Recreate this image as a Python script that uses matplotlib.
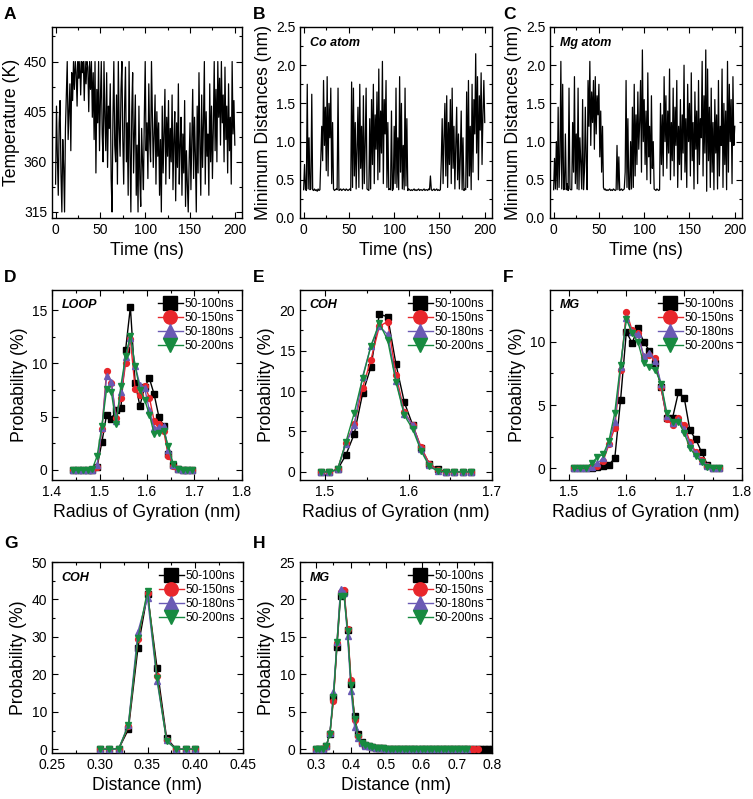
import matplotlib
matplotlib.use("Agg")
import matplotlib.pyplot as plt
from matplotlib.ticker import AutoMinorLocator
import numpy as np

plt.rcParams['font.family'] = ['Liberation Sans', 'DejaVu Sans']

# ---- time series (A, B, C), one value per ns ----
time_ns = list(range(0, 201))

temperature = [
    340, 410, 365, 330, 395, 415, 350, 315, 380, 355,
    315, 390, 420, 450, 380, 405, 430, 370, 440, 415,
    450, 425, 450, 440, 410, 450, 435, 450, 420, 450,
    440, 450, 415, 450, 430, 450, 445, 405, 450, 425,
    450, 400, 440, 380, 450, 350, 425, 395, 450, 370,
    415, 450, 385, 360, 450, 400, 370, 440, 355, 410,
    390, 430, 345, 315, 400, 450, 375, 360, 420, 340,
    450, 390, 365, 425, 450, 380, 340, 410, 445, 360,
    395, 330, 450, 370, 315, 405, 440, 350, 385, 420,
    330, 375, 315, 410, 345, 320, 390, 360, 335, 400,
    450, 370, 395, 345, 430, 380, 360, 450, 400, 355,
    385, 420, 340, 405, 365, 395, 330, 380, 315, 410,
    350, 385, 425, 340, 400, 365, 415, 345, 390, 360,
    420, 335, 380, 405, 325, 395, 355, 430, 340, 375,
    400, 330, 385, 350, 415, 320, 370, 340, 315, 360,
    395, 335, 380, 425, 345, 400, 365, 315, 410, 350,
    440, 375, 330, 420, 355, 395, 450, 340, 405, 365,
    385, 330, 430, 360, 410, 345, 390, 450, 370, 425,
    360, 450, 400, 435, 375, 450, 395, 420, 360, 445,
    380, 410, 350, 430, 370, 400, 340, 450, 385, 415,
    375]

co_dist = [
    0.37, 0.70, 0.38, 0.36, 1.75, 0.38, 1.05, 0.37, 0.38, 1.62,
    0.37, 0.36, 0.38, 0.36, 0.37, 0.35, 0.38, 0.36, 0.37, 0.80,
    1.20, 0.75, 1.80, 0.95, 1.45, 0.62, 1.85, 0.55, 1.50, 1.05,
    1.70, 0.45, 1.25, 0.38, 0.36, 0.37, 0.38, 0.37, 1.70, 0.36,
    0.37, 0.38, 0.36, 0.37, 0.38, 0.37, 0.36, 0.38, 0.37, 0.36,
    0.37, 0.38, 0.36, 1.78, 0.40, 1.70, 0.55, 1.25, 0.38, 0.90,
    1.45, 0.40, 1.75, 0.65, 1.20, 0.38, 1.60, 0.45, 0.95, 1.70,
    0.38, 0.37, 0.36, 1.30, 0.38, 1.55, 0.70, 1.75, 0.45, 1.35,
    0.90, 1.65, 0.50, 1.95, 0.60, 1.40, 0.85, 2.05, 0.45, 1.55,
    1.10, 1.80, 0.40, 1.25, 0.37, 0.38, 0.37, 1.40, 0.36, 0.38,
    1.20, 0.45, 1.70, 0.40, 1.05, 0.37, 1.85, 0.60, 1.50, 0.38,
    0.95, 0.37, 1.70, 0.42, 1.30, 0.36, 0.38, 0.37, 0.36, 0.37,
    0.36, 0.37, 0.38, 0.36, 0.37, 0.36, 0.37, 0.38, 0.36, 0.37,
    0.37, 0.36, 0.37, 0.38, 0.36, 0.37, 0.37, 0.36, 0.38, 0.37,
    0.55, 0.37, 0.36, 0.37, 0.38, 0.36, 0.37, 0.38, 0.36, 0.37,
    0.36, 0.37, 0.75, 1.30, 0.45, 1.05, 1.50, 0.55, 1.60, 0.40,
    1.25, 0.70, 1.55, 0.45, 1.70, 0.65, 1.20, 0.38, 0.95, 1.45,
    0.50, 1.10, 0.38, 0.80, 1.40, 0.37, 1.05, 0.36, 0.38, 0.37,
    1.65, 0.40, 1.80, 0.55, 1.20, 0.37, 1.75, 0.60, 1.55, 1.10,
    2.15, 0.85, 1.85, 0.50, 1.60, 1.15, 1.90, 0.70, 1.35, 1.80,
    1.25]

mg_dist = [
    0.37, 0.78, 0.38, 1.00, 0.37, 1.45, 0.40, 0.80, 2.05, 0.38,
    1.75, 0.37, 0.38, 1.10, 0.37, 0.45, 0.36, 1.70, 0.38, 0.37,
    0.37, 1.25, 0.60, 1.85, 0.45, 1.10, 0.38, 1.70, 0.37, 1.05,
    0.70, 0.38, 1.55, 0.37, 0.60, 1.45, 0.75, 0.37, 1.80, 1.20,
    2.05, 0.95, 1.65, 1.25, 1.80, 0.90, 1.85, 1.10, 1.60, 1.35,
    1.75, 0.80, 1.40, 0.60, 1.20, 0.40, 0.37, 0.38, 0.36, 0.37,
    0.36, 0.37, 0.38, 0.36, 0.37, 0.36, 0.38, 0.37, 0.36, 0.37,
    0.95, 0.37, 0.80, 0.36, 0.37, 0.38, 0.36, 0.37, 0.38, 0.60,
    1.80, 0.40, 1.30, 0.38, 0.37, 1.00, 0.38, 1.45, 0.40, 1.75,
    0.55, 1.35, 0.70, 1.65, 0.90, 1.25, 1.80, 0.60, 2.20, 1.00,
    1.55, 0.70, 1.40, 0.50, 1.90, 0.80, 1.20, 0.45, 1.60, 0.65,
    1.00, 0.38, 0.37, 0.36, 0.38, 0.37, 0.36, 0.37, 1.50, 0.70,
    1.35, 0.55, 1.85, 1.00, 1.60, 0.65, 1.40, 0.85, 1.95, 0.50,
    1.25, 0.75, 1.70, 0.55, 1.45, 0.95, 1.80, 0.40, 1.20, 0.70,
    1.55, 0.50, 1.35, 0.85, 2.00, 0.60, 1.30, 0.40, 1.75, 1.00,
    1.50, 0.55, 1.90, 0.75, 1.25, 0.38, 1.65, 0.90, 1.40, 0.45,
    1.80, 0.70, 1.30, 1.05, 2.05, 0.55, 1.60, 0.85, 2.20, 0.35,
    1.95, 0.75, 1.45, 0.40, 1.70, 0.60, 1.25, 0.37, 1.55, 0.85,
    1.35, 0.38, 1.80, 0.55, 1.20, 0.95, 1.95, 0.40, 1.50, 0.70,
    1.40, 0.37, 2.05, 0.60, 1.75, 1.00, 1.55, 0.45, 1.85, 0.95,
    1.20]

series_names = ["50-100ns", "50-150ns", "50-180ns", "50-200ns"]

# ---- D: LOOP radius of gyration ----
loop_rg = [1.445, 1.455, 1.465, 1.475, 1.485, 1.495, 1.505, 1.515, 1.525,
           1.535, 1.545, 1.555, 1.565, 1.575, 1.585, 1.595, 1.605, 1.615,
           1.625, 1.635, 1.645, 1.655, 1.665, 1.675, 1.685, 1.695]
loop_100 = [0, 0, 0, 0, 0, 0.3, 2.6, 5.2, 4.8, 5.6, 5.8, 11.3, 15.3,
            8.2, 6.0, 7.8, 8.6, 7.1, 5.0, 4.1, 1.5, 0.5, 0.1, 0, 0, 0]
loop_150 = [0, 0, 0, 0, 0, 0.3, 3.8, 9.3, 8.2, 4.9, 6.8, 10.0, 12.3,
            7.6, 7.0, 7.9, 6.8, 4.6, 4.3, 3.7, 1.3, 0.4, 0.1, 0, 0, 0]
loop_180 = [0, 0, 0, 0, 0, 0.5, 3.9, 8.8, 8.3, 4.6, 7.3, 10.6, 12.4,
            9.8, 8.0, 7.7, 5.6, 3.9, 4.0, 4.1, 1.9, 0.5, 0.1, 0, 0, 0]
loop_200 = [0, 0, 0, 0, 0.1, 1.3, 4.1, 7.6, 7.3, 4.3, 7.9, 10.7, 12.6,
            9.8, 7.5, 6.6, 5.2, 3.4, 3.5, 3.7, 2.2, 0.6, 0.1, 0, 0, 0]

# ---- E: COH radius of gyration ----
coh_rg = [1.495, 1.505, 1.515, 1.525, 1.535, 1.545, 1.555, 1.565, 1.575,
          1.585, 1.595, 1.605, 1.615, 1.625, 1.635, 1.645, 1.655, 1.665,
          1.675]
coh_100 = [0, 0, 0.3, 2.1, 4.7, 9.7, 13.0, 19.5, 19.2, 13.3, 8.6, 5.8,
           2.9, 1.0, 0.3, 0, 0, 0, 0]
coh_150 = [0, 0, 0.3, 3.6, 5.9, 10.4, 13.9, 18.0, 18.6, 12.0, 7.4, 5.8,
           3.1, 1.0, 0.2, 0, 0, 0, 0]
coh_180 = [0, 0, 0.3, 3.5, 5.8, 11.8, 15.6, 18.0, 17.0, 11.3, 7.2, 5.8,
           2.8, 0.8, 0.1, 0, 0, 0, 0]
coh_200 = [0, 0, 0.3, 3.7, 7.3, 11.6, 15.6, 18.4, 16.3, 11.1, 7.0, 5.3,
           2.6, 0.7, 0.1, 0, 0, 0, 0]

# ---- F: MG radius of gyration ----
mg_rg = [1.51, 1.52, 1.53, 1.54, 1.55, 1.56, 1.57, 1.58, 1.59, 1.60,
         1.61, 1.62, 1.63, 1.64, 1.65, 1.66, 1.67, 1.68, 1.69, 1.70,
         1.71, 1.72, 1.73, 1.74, 1.75, 1.76]
mg_100 = [0, 0, 0, 0, 0.1, 0.2, 0.3, 0.8, 5.4, 10.8, 9.9, 11.1, 10.0,
          9.3, 8.3, 6.4, 4.0, 4.0, 6.0, 5.6, 3.0, 2.3, 1.3, 0.3, 0, 0]
mg_150 = [0, 0, 0, 0.1, 0.2, 0.6, 1.9, 3.2, 7.8, 12.4, 10.9, 10.7, 8.8,
          9.0, 8.7, 6.4, 3.9, 3.4, 4.0, 3.4, 2.1, 1.3, 0.7, 0.2, 0, 0]
mg_180 = [0, 0, 0, 0.1, 0.4, 0.8, 2.0, 3.7, 8.0, 11.9, 10.8, 10.6, 8.9,
          9.1, 8.5, 6.7, 4.1, 3.6, 3.8, 3.1, 1.9, 1.2, 0.6, 0.2, 0, 0]
mg_200 = [0, 0, 0, 0.4, 0.9, 1.1, 2.2, 4.4, 8.2, 11.8, 10.7, 10.0, 8.3,
          8.0, 7.8, 6.7, 4.4, 3.7, 3.7, 2.8, 1.6, 1.0, 0.5, 0.1, 0, 0]

# ---- G: COH distance ----
coh_d = [0.30, 0.31, 0.32, 0.33, 0.34, 0.35, 0.36, 0.37, 0.38, 0.39, 0.40]
cohd_100 = [0, 0, 0.2, 5.3, 27.1, 41.5, 21.7, 3.0, 0, 0, 0]
cohd_150 = [0, 0, 0.2, 6.1, 29.4, 41.8, 19.6, 2.4, 0, 0, 0]
cohd_180 = [0, 0, 0.2, 6.6, 31.4, 40.5, 18.3, 2.4, 0, 0, 0]
cohd_200 = [0, 0, 0.2, 6.4, 29.6, 42.3, 19.0, 2.2, 0, 0, 0]

# ---- H: MG distance (series differ in length) ----
mg_d = [0.30, 0.31, 0.32, 0.33, 0.34, 0.35, 0.36, 0.37, 0.38, 0.39,
        0.40, 0.41, 0.42, 0.43, 0.44, 0.45, 0.46, 0.47, 0.48, 0.49,
        0.50, 0.51, 0.52, 0.53, 0.54, 0.55, 0.56, 0.57, 0.58, 0.59,
        0.60, 0.61, 0.62, 0.63, 0.64, 0.65, 0.66, 0.67, 0.68, 0.69,
        0.70, 0.71, 0.72, 0.73, 0.74, 0.75, 0.76, 0.77, 0.78, 0.79,
        0.80]
mgd_100 = [0, 0, 0.1, 0.5, 2.1, 7.0, 13.7, 20.4, 21.0, 15.9,
           8.7, 4.4, 2.0, 1.0, 0.6, 0.4, 0.3, 0.2, 0.15, 0.12,
           0.10, 0.09, 0.08, 0.07, 0.06, 0.06, 0.05, 0.05, 0.04, 0.04,
           0.04, 0.03, 0.03, 0.03, 0.03, 0.02, 0.02, 0.02, 0.02, 0.02,
           0.02, 0.01, 0.01, 0.01, 0.01, 0.01, 0.01, 0.01, 0.01, 0.01,
           0.01]
mgd_150 = [0, 0, 0.1, 0.4, 2.2, 6.5, 14.2, 21.0, 21.3, 16.0,
           9.2, 3.9, 1.8, 0.9, 0.6, 0.4, 0.3, 0.2, 0.15, 0.12,
           0.10, 0.09, 0.08, 0.07, 0.06, 0.06, 0.05, 0.05, 0.04, 0.04,
           0.04, 0.03, 0.03, 0.03, 0.03, 0.02, 0.02, 0.02, 0.02, 0.02,
           0.02, 0.01, 0.01, 0.01, 0.01, 0.01, 0.01]
mgd_180 = [0, 0, 0.1, 0.5, 2.2, 7.6, 14.3, 21.4, 20.8, 15.1,
           7.8, 3.0, 1.5, 0.8, 0.5, 0.4, 0.3, 0.2, 0.15, 0.12,
           0.10, 0.09, 0.08, 0.07, 0.06, 0.06, 0.05, 0.05, 0.04, 0.04,
           0.04, 0.03, 0.03, 0.03, 0.03, 0.02, 0.02, 0.02, 0.02, 0.02,
           0.02, 0.01, 0.01, 0.01]
mgd_200 = [0, 0, 0.1, 0.5, 2.1, 7.0, 14.3, 20.5, 20.5, 15.8,
           8.6, 4.0, 1.7, 0.9, 0.6, 0.4, 0.3, 0.2, 0.15, 0.12,
           0.10, 0.09, 0.08, 0.07, 0.06, 0.06, 0.05, 0.05, 0.04, 0.04,
           0.04, 0.03, 0.03, 0.03, 0.03, 0.02, 0.02, 0.02, 0.02, 0.02,
           0.02, 0.01, 0.01, 0.01]

colors = ["#000000", "#e8262b", "#6a5ab4", "#178a40"]
markers = ["s", "o", "^", "v"]

W, H = 753, 799
LABEL_FS = 12.7
TICK_FS = 10


def add_ax(fig, left, top, right, bottom):
    return fig.add_axes([left / W, 1 - bottom / H,
                         (right - left) / W, (bottom - top) / H])


def style(ax):
    ax.tick_params(which="both", direction="in", top=True, right=True,
                   labelsize=TICK_FS, width=0.8)
    ax.tick_params(which="major", length=4)
    ax.tick_params(which="minor", length=2)
    ax.xaxis.set_minor_locator(AutoMinorLocator(2))
    ax.yaxis.set_minor_locator(AutoMinorLocator(2))
    for s in ax.spines.values():
        s.set_linewidth(1.0)


def dist_panel(ax, xs, ys, tag):
    for i, (x, y) in enumerate(zip(xs, ys)):
        ax.plot(x, y, color=colors[i], marker=markers[i], ms=4.2, lw=1.0,
                mec=colors[i], label=series_names[i], zorder=2 + i)
    ax.legend(loc="upper right", frameon=False, fontsize=8.6,
              markerscale=2.3, handlelength=2.1, handletextpad=0.1,
              labelspacing=0.15, borderaxespad=0.3)
    ax.text(0.05, 0.95, tag, transform=ax.transAxes, fontsize=9,
            fontweight="bold", style="italic", va="top")
    ax.set_ylabel("Probability (%)", fontsize=LABEL_FS, labelpad=3)
    style(ax)


def main():
    fig = plt.figure(figsize=(W / 100, H / 100), dpi=100)

    # A
    ax = add_ax(fig, 52, 27, 242, 218)
    ax.plot(time_ns, temperature, color="black", lw=0.9)
    ax.set_xlim(-4, 208)
    ax.set_ylim(309.6, 481)
    ax.set_yticks([315, 360, 405, 450])
    ax.set_xticks([0, 50, 100, 150, 200])
    ax.set_xlabel("Time (ns)", fontsize=LABEL_FS)
    ax.set_ylabel("Temperature (K)", fontsize=LABEL_FS, labelpad=3)
    style(ax)

    # B, C
    for left, data, tag in [(300, co_dist, "Co atom"), (550, mg_dist, "Mg atom")]:
        ax = add_ax(fig, left, 27, left + 192, 218)
        ax.plot(time_ns, data, color="black", lw=0.9)
        ax.set_xlim(-4, 208)
        ax.set_ylim(0, 2.5)
        ax.set_yticks([0.0, 0.5, 1.0, 1.5, 2.0, 2.5])
        ax.set_yticklabels(["0.0", "0.5", "1.0", "1.5", "2.0", "2.5"])
        ax.set_xticks([0, 50, 100, 150, 200])
        ax.set_xlabel("Time (ns)", fontsize=LABEL_FS)
        ax.set_ylabel("Minimum Distances (nm)", fontsize=LABEL_FS, labelpad=3)
        ax.text(0.05, 0.95, tag, transform=ax.transAxes, fontsize=9,
                fontweight="bold", style="italic", va="top")
        style(ax)

    # D
    ax = add_ax(fig, 52, 290, 242, 480)
    dist_panel(ax, [loop_rg] * 4, [loop_100, loop_150, loop_180, loop_200], "LOOP")
    ax.set_xlim(1.4, 1.8)
    ax.set_ylim(-0.95, 16.9)
    ax.set_xticks([1.4, 1.5, 1.6, 1.7, 1.8])
    ax.set_yticks([0, 5, 10, 15])
    ax.set_xlabel("Radius of Gyration (nm)", fontsize=LABEL_FS)

    # E
    ax = add_ax(fig, 300, 290, 492, 480)
    dist_panel(ax, [coh_rg] * 4, [coh_100, coh_150, coh_180, coh_200], "COH")
    ax.set_xlim(1.47, 1.7)
    ax.set_ylim(-1.0, 22.5)
    ax.set_xticks([1.5, 1.6, 1.7])
    ax.set_yticks([0, 5, 10, 15, 20])
    ax.set_xlabel("Radius of Gyration (nm)", fontsize=LABEL_FS)

    # F
    ax = add_ax(fig, 550, 290, 742, 480)
    dist_panel(ax, [mg_rg] * 4, [mg_100, mg_150, mg_180, mg_200], "MG")
    ax.set_xlim(1.468, 1.8)
    ax.set_ylim(-0.92, 14.1)
    ax.set_xticks([1.5, 1.6, 1.7, 1.8])
    ax.set_yticks([0, 5, 10])
    ax.set_xlabel("Radius of Gyration (nm)", fontsize=LABEL_FS)

    # G
    ax = add_ax(fig, 52, 562, 243, 753)
    dist_panel(ax, [coh_d] * 4, [cohd_100, cohd_150, cohd_180, cohd_200], "COH")
    ax.set_xlim(0.25, 0.45)
    ax.set_ylim(-1.0, 50)
    ax.set_xticks([0.25, 0.30, 0.35, 0.40, 0.45])
    ax.set_xticklabels(["0.25", "0.30", "0.35", "0.40", "0.45"])
    ax.set_yticks([0, 10, 20, 30, 40, 50])
    ax.set_xlabel("Distance (nm)", fontsize=LABEL_FS)

    # H
    ax = add_ax(fig, 300, 562, 492, 753)
    xs = [mg_d[:len(mgd_100)], mg_d[:len(mgd_150)],
          mg_d[:len(mgd_180)], mg_d[:len(mgd_200)]]
    dist_panel(ax, xs, [mgd_100, mgd_150, mgd_180, mgd_200], "MG")
    ax.set_xlim(0.255, 0.80)
    ax.set_ylim(-0.5, 25)
    ax.set_xticks([0.3, 0.4, 0.5, 0.6, 0.7, 0.8])
    ax.set_yticks([0, 5, 10, 15, 20, 25])
    ax.set_xlabel("Distance (nm)", fontsize=LABEL_FS)

    # panel letters
    letters = [("A", 4, 19), ("B", 253, 19), ("C", 503, 19),
               ("D", 4, 282), ("E", 253, 282), ("F", 503, 282),
               ("G", 4, 548), ("H", 253, 548)]
    for s, x, y in letters:
        fig.text(x / W, 1 - y / H, s, fontsize=12.5, fontweight="bold")

    fig.savefig("out.png", dpi=100)


if __name__ == "__main__":
    main()
